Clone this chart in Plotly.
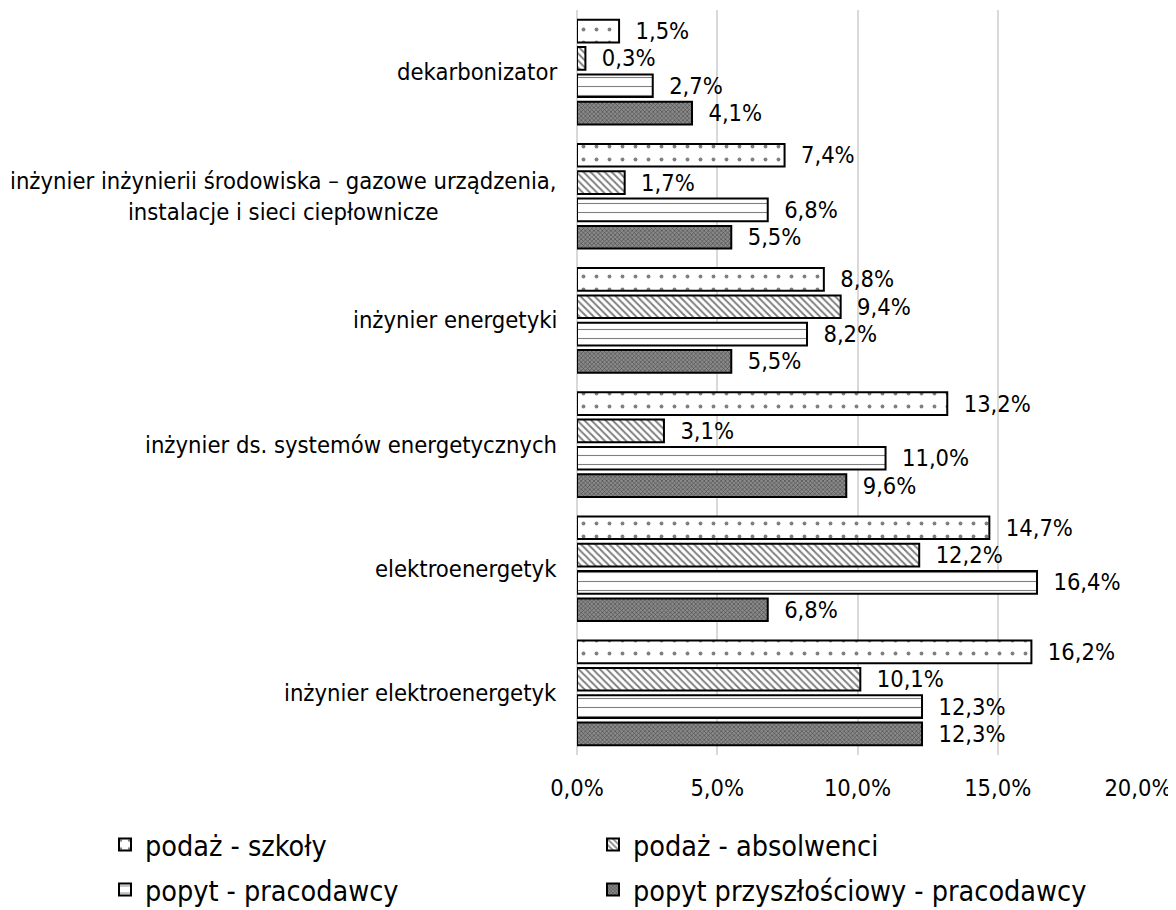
import plotly.graph_objects as go

categories = [
    "dekarbonizator",
    "inżynier inżynierii środowiska – gazowe urządzenia,<br>instalacje i sieci ciepłownicze",
    "inżynier energetyki",
    "inżynier ds. systemów energetycznych",
    "elektroenergetyk",
    "inżynier elektroenergetyk",
]
series_names = [
    "podaż - szkoły",
    "podaż - absolwenci",
    "popyt - pracodawcy",
    "popyt przyszłościowy - pracodawcy",
]
podaz_szkoly = [1.5, 7.4, 8.8, 13.2, 14.7, 16.2]
podaz_absolwenci = [0.3, 1.7, 9.4, 3.1, 12.2, 10.1]
popyt_pracodawcy = [2.7, 6.8, 8.2, 11.0, 16.4, 12.3]
popyt_przyszlosciowy = [4.1, 5.5, 5.5, 9.6, 6.8, 12.3]
tick_vals = [0, 5, 10, 15, 20]
tick_text = ["0,0%", "5,0%", "10,0%", "15,0%", "20,0%"]

series = [podaz_szkoly, podaz_absolwenci, popyt_pracodawcy, popyt_przyszlosciowy]
styles = [
    dict(color="white", pattern=dict(shape=".", fgcolor="black", bgcolor="white", size=13, solidity=0.07)),
    dict(color="white", pattern=dict(shape="\\", fgcolor="black", bgcolor="white", size=5, solidity=0.4)),
    dict(color="white", pattern=dict(shape="-", fgcolor="black", bgcolor="white", size=9, solidity=0.12)),
    dict(color="#6f6f6f", pattern=dict(shape="x", fgcolor="black", bgcolor="#8a8a8a", size=3, solidity=0.35)),
]
legend_ids = ["legend", "legend2", "legend3", "legend4"]

FONT = "DejaVu Sans Condensed, DejaVu Sans"
NB = "\u00a0\u00a0"
fig = go.Figure()
for name, vals, st, lg in zip(series_names, series, styles, legend_ids):
    fig.add_trace(go.Bar(
        y=categories, x=vals, name=name, orientation="h", legend=lg,
        marker=dict(color=st["color"], pattern=st["pattern"], line=dict(color="black", width=2)),
        text=[NB + f"{v:.1f}%".replace(".", ",") for v in vals],
        textposition="outside", cliponaxis=False, constraintext="none",
        textfont=dict(family=FONT, size=23.5, color="black"),
    ))

for c in categories:
    fig.add_annotation(
        x=0, xref="paper", y=c, yref="y", xanchor="right", xshift=-18,
        text=c, showarrow=False, align="center",
        font=dict(family=FONT, size=23.6, color="black"),
    )

L, R, T, B = 569, 46, 2, 163
PW = 1176 - L - R
PH = 910 - T - B
def py(fig_y):
    return (T + PH - fig_y) / PH
def px(fig_x):
    return (fig_x - L) / PW

leg_common = dict(
    orientation="h", xanchor="left", yanchor="middle",
    font=dict(family=FONT, size=28.5, color="black"),
    itemwidth=30, bgcolor="rgba(0,0,0,0)",
)
fig.update_layout(
    width=1176, height=910,
    paper_bgcolor="white", plot_bgcolor="white",
    margin=dict(l=L, r=R, t=T, b=B),
    barmode="group", bargap=0.12, bargroupgap=0.17,
    font=dict(family=FONT, size=23, color="black"),
    legend=dict(leg_common, x=px(97), y=py(837)),
    legend2=dict(leg_common, x=px(585), y=py(837)),
    legend3=dict(leg_common, x=px(97), y=py(882)),
    legend4=dict(leg_common, x=px(585), y=py(882)),
    showlegend=True,
)
fig.update_xaxes(
    range=[0, 20], tickvals=tick_vals, ticktext=tick_text,
    showgrid=True, gridcolor="#d9d9d9", gridwidth=2,
    zeroline=True, zerolinecolor="#d9d9d9", zerolinewidth=2,
    tickfont=dict(family=FONT, size=23.5, color="black"), ticks="",
    ticklabelstandoff=16,
)
fig.update_yaxes(autorange="reversed", showticklabels=False, showgrid=False)

fig.write_html("out.html")
